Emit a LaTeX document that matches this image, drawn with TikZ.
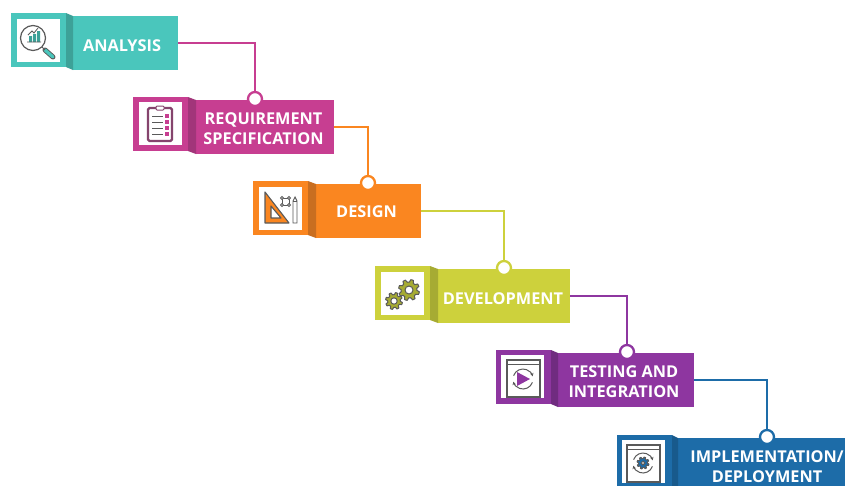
\documentclass[tikz,border=0pt]{standalone}
\usepackage{fontspec}
\setmainfont{Open Sans}
\usetikzlibrary{arrows.meta}
\definecolor{tealM}{HTML}{4AC6BC}\definecolor{tealD}{HTML}{3DA198}
\definecolor{magM}{HTML}{C73E91}\definecolor{magD}{HTML}{A2357A}
\definecolor{oraM}{HTML}{FA8620}\definecolor{oraD}{HTML}{C96E20}
\definecolor{oliM}{HTML}{CDD13C}\definecolor{oliD}{HTML}{A6AB33}
\definecolor{purM}{HTML}{8E36A0}\definecolor{purD}{HTML}{702C80}
\definecolor{bluM}{HTML}{1D6CA8}\definecolor{bluD}{HTML}{185A8C}
\definecolor{iconG}{HTML}{5A5A5A}
\tikzset{
  tabbox/.style={fill=#1,inner sep=0pt,outer sep=0pt,minimum width=55pt,minimum height=54pt,anchor=north west},
  barbox/.style={fill=#1,inner sep=0pt,outer sep=0pt,minimum height=54pt,anchor=north west},
  iconbox/.style={fill=white,inner sep=0pt,outer sep=0pt,minimum width=43pt,minimum height=43pt,anchor=north west},
  stagetext/.style={text=white,font=\fontsize{16.3}{20}\selectfont\bfseries,align=center,inner sep=0pt},
  conn/.style={draw=#1,line width=2.3pt},
  joint/.style={circle,draw=#1,fill=white,line width=2.3pt,minimum size=14pt,inner sep=0pt,outer sep=0pt},
  ic/.style={draw=iconG,line width=1.2pt},
}
\newcommand{\cogwheel}[6]{% cx cy R h fill hole
  \draw[draw=iconG,line width=1pt,fill=#5,line join=round]
    plot[variable=\t,domain=0:360,samples=49] ({#1+(mod(\t+.01,45)<22.5?#3:#3-#4)*cos(\t+10)},{#2+(mod(\t+.01,45)<22.5?#3:#3-#4)*sin(\t+10)}) -- cycle;
  \draw[draw=iconG,line width=1pt,fill=white] (#1,#2) circle (#6);
}
\newcommand{\cyclearrows}[2]{% cx cy
  \draw[ic,line width=1pt,-{Stealth[length=3.5pt,width=3.5pt]}] ([shift={(200:10)}]#1,#2) arc[start angle=200,end angle=345,radius=10];
  \draw[ic,line width=1pt,-{Stealth[length=3.5pt,width=3.5pt]}] ([shift={(20:10)}]#1,#2) arc[start angle=20,end angle=165,radius=10];
}
\begin{document}
\begin{tikzpicture}[x=1pt,y=-1pt]
\useasboundingbox (0,0) rectangle (845,485);
\clip (0,0) rectangle (845,485);
\fill[white] (0,0) rectangle (845,485);

% bars and tabs
\node[barbox=tealM,minimum width=105pt] (b1) at (73,16) {};
\node[tabbox=tealM] (s1) at (11,13) {};
\node[barbox=magM,minimum width=138pt] (b2) at (196,100) {};
\node[tabbox=magM] (s2) at (133,97) {};
\node[barbox=oraM,minimum width=105pt] (b3) at (316,184) {};
\node[tabbox=oraM] (s3) at (253,181) {};
\node[barbox=oliM,minimum width=132pt] (b4) at (438,269) {};
\node[tabbox=oliM] (s4) at (375,266) {};
\node[barbox=purM,minimum width=136pt] (b5) at (558,353) {};
\node[tabbox=purM] (s5) at (496,350) {};
\node[barbox=bluM,minimum width=175pt] (b6) at (678,438) {};
\node[tabbox=bluM] (s6) at (617,435) {};

% folds
\fill[tealD] (s1.north east) -- (b1.north west) -- (b1.south west) -- (s1.south east) -- cycle;
\fill[magD] (s2.north east) -- (b2.north west) -- (b2.south west) -- (s2.south east) -- cycle;
\fill[oraD] (s3.north east) -- (b3.north west) -- (b3.south west) -- (s3.south east) -- cycle;
\fill[oliD] (s4.north east) -- (b4.north west) -- (b4.south west) -- (s4.south east) -- cycle;
\fill[purD] (s5.north east) -- (b5.north west) -- (b5.south west) -- (s5.south east) -- cycle;
\fill[bluD] (s6.north east) -- (b6.north west) -- (b6.south west) -- (s6.south east) -- cycle;

% joints and connectors
\node[joint=magM] (j2) at (255,99) {};
\node[joint=oraM] (j3) at (368,183) {};
\node[joint=oliM] (j4) at (504,268) {};
\node[joint=purM] (j5) at (627,352) {};
\node[joint=bluM] (j6) at (767,437) {};
\draw[conn=magM] (b1.east) -| (j2.north);
\draw[conn=oraM] (b2.east) -| (j3.north);
\draw[conn=oliM] (b3.east) -| (j4.north);
\draw[conn=purM] (b4.east) -| (j5.north);
\draw[conn=bluM] (b5.east) -| (j6.north);

% texts
\node[stagetext] (t1) at (122,45.5) {ANALYSIS};
\node[stagetext] (t2) at (263.5,129) {REQUIREMENT\\SPECIFICATION};
\node[stagetext] (t3) at (366.5,212) {DESIGN};
\node[stagetext] (t4) at (503,298.5) {DEVELOPMENT};
\node[stagetext] (t5) at (624,382) {TESTING AND\\INTEGRATION};
\node[stagetext] (t6) at (767,467) {IMPLEMENTATION/\\DEPLOYMENT};

% white icon boxes
\node[iconbox] (w1) at (17,19) {};
\node[iconbox] (w2) at (139,102) {};
\node[iconbox] (w3) at (259,187) {};
\node[iconbox] (w4) at (381,272) {};
\node[iconbox] (w5) at (501,355) {};
\node[iconbox] (w6) at (622,440) {};

% icon 1: magnifier with chart
\draw[ic] (33,38) circle (12.5);
\draw[line width=5pt,draw=iconG,line cap=round] (45,50) -- (53,57);
\draw[line width=3.2pt,draw=tealM,line cap=round] (45,50) -- (53,57);
\draw[ic,line width=1pt] (42,47) -- (45,50);
\fill[tealD] (29,36) rectangle (32,42) (33,34) rectangle (36,42) (37,31) rectangle (40,42);
\draw[ic,line width=.8pt] (27,42) -- (41,42) (28,35) -- (32,31) -- (34,33) -- (38,28);

% icon 2: clipboard
\draw[draw=magD!60!iconG,line width=2.2pt,rounded corners=1.5pt,fill=white] (148,108) rectangle (172,141);
\draw[draw=magD!60!iconG,line width=1pt,fill=white,rounded corners=1pt] (156,106) rectangle (164,110);
\foreach \yy in {116,122,128,134}{
  \draw[draw=iconG,line width=1pt] (152,\yy) -- (163,\yy);
  \fill[magM] (164.5,\yy-2) rectangle (168.5,\yy+2);
}

% icon 3: set square, frame, pencil
\draw[draw=iconG,line width=1.1pt,fill=oraM,even odd rule,line join=round]
  (265,192) -- (265,223) -- (289,223) -- cycle
  (271,206) -- (271,218) -- (281,218) -- cycle;
\draw[ic,line width=.9pt] (282,198) rectangle (289,205);
\foreach \px/\py in {282/198,289/198,282/205,289/205}{\draw[ic,line width=.8pt,fill=white] (\px,\py) circle (1.5);}
\draw[ic,line width=.9pt,fill=white] (293,201) -- (295,197) -- (297,201) -- (297,223) -- (293,223) -- cycle;
\draw[ic,line width=.9pt] (293,201) -- (297,201);

% icon 4: cogs
\cogwheel{409}{290}{10.5}{2.6}{oliD}{4}
\cogwheel{394}{301}{8.5}{2.2}{oliD}{3.2}

% icon 5: window, play
\draw[ic] (507,360) rectangle (540,397);
\draw[ic] (507,364.5) -- (540,364.5);
\cyclearrows{523}{379}
\fill[purM] (517,372) -- (530,379) -- (517,386) -- cycle;

% icon 6: window, cog
\draw[ic] (627,445) rectangle (660,482);
\draw[ic] (627,449.5) -- (660,449.5);
\cyclearrows{643}{463}
\cogwheel{643}{463}{6}{1.6}{bluM}{1.8}
\end{tikzpicture}
\end{document}
